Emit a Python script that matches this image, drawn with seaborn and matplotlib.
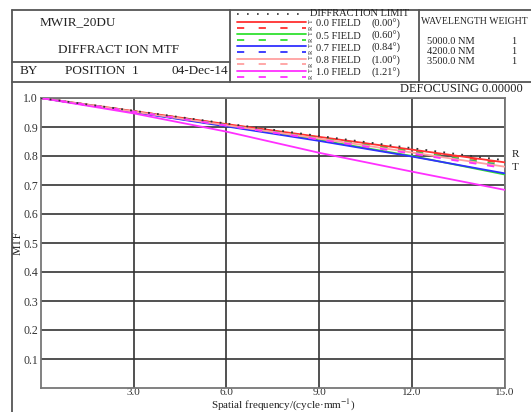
import matplotlib
matplotlib.use("Agg")
import matplotlib.pyplot as plt
from matplotlib.lines import Line2D
import seaborn as sns

# spatial frequency samples (cycles/mm)
freq = [0, 3, 6, 9, 12, 15]

# MTF values
diff_limit = [1.0, 0.956, 0.912, 0.869, 0.827, 0.785]
f00_t = [1.0, 0.955, 0.910, 0.866, 0.822, 0.778]
f00_r = [1.0, 0.955, 0.909, 0.864, 0.819, 0.775]
f05_t = [1.0, 0.952, 0.904, 0.855, 0.800, 0.736]
f05_r = [1.0, 0.954, 0.907, 0.861, 0.815, 0.768]
f07_t = [1.0, 0.951, 0.902, 0.852, 0.798, 0.740]
f07_r = [1.0, 0.953, 0.906, 0.859, 0.812, 0.764]
f08_t = [1.0, 0.953, 0.906, 0.860, 0.812, 0.763]
f08_r = [1.0, 0.953, 0.905, 0.858, 0.810, 0.760]
f10_t = [1.0, 0.947, 0.884, 0.811, 0.746, 0.683]
f10_r = [1.0, 0.953, 0.905, 0.857, 0.808, 0.758]

field_names = ["0.0 FIELD", "0.5 FIELD", "0.7 FIELD", "0.8 FIELD", "1.0 FIELD"]
field_angles = ["(0.00\u00b0)", "(0.60\u00b0)", "(0.84\u00b0)", "(1.00\u00b0)", "(1.21\u00b0)"]
field_colors = ["#ff3030", "#30e030", "#3030ff", "#ffa0a0", "#ff30ff"]
tangential = [f00_t, f05_t, f07_t, f08_t, f10_t]
radial = [f00_r, f05_r, f07_r, f08_r, f10_r]

wavelengths = ["5000.0 NM", "4200.0 NM", "3500.0 NM"]
weights = ["1", "1", "1"]

xticks = [3.0, 6.0, 9.0, 12.0, 15.0]
yticks = [0.1, 0.2, 0.3, 0.4, 0.5, 0.6, 0.7, 0.8, 0.9, 1.0]

sns.set_style("white")
plt.rcParams['font.family'] = ['Liberation Serif', 'DejaVu Serif']
plt.rcParams['mathtext.fontset'] = 'stix'

W, H = 531, 412
fig = plt.figure(figsize=(W / 100, H / 100), dpi=100)


def fx(px):
    return px / W


def fy(py):
    return 1 - py / H


def hline(x0, x1, y, **kw):
    fig.add_artist(Line2D([fx(x0), fx(x1)], [fy(y), fy(y)], **kw))


def vline(x, y0, y1, **kw):
    fig.add_artist(Line2D([fx(x), fx(x)], [fy(y0), fy(y1)], **kw))


frame = dict(color="#555555", lw=1.3)
# outer frame and header boxes
hline(12, 531, 10, **frame)
vline(12, 10, 412, **frame)
hline(12, 230, 62, **frame)
hline(12, 531, 82, **frame)
vline(230, 10, 82, **frame)
vline(419, 10, 82, **frame)

txt = dict(color="#222222")
fig.text(fx(78), fy(22), "MWIR_20DU", ha="center", va="center", fontsize=9.5, **txt)
fig.text(fx(119), fy(50), "DIFFRACT ION MTF", ha="center", va="center", fontsize=9.5, **txt)
fig.text(fx(20), fy(71), "BY", ha="left", va="center", fontsize=9.5, **txt)
fig.text(fx(65), fy(71), "POSITION  1", ha="left", va="center", fontsize=9.5, **txt)
fig.text(fx(228), fy(71), "04-Dec-14", ha="right", va="center", fontsize=9.5, **txt)

# legend samples in header
fig.add_artist(Line2D([fx(237), fx(306)], [fy(14), fy(14)], color="#333333",
                      lw=1.2, linestyle=(0, (1, 5))))
fig.text(fx(310), fy(14), "DIFFRACTION LIMIT", ha="left", va="center", fontsize=7.5, **txt)
for i, (name, ang, col) in enumerate(zip(field_names, field_angles, field_colors)):
    yt = 22 + i * 12.2
    yr = yt + 5.8
    fig.add_artist(Line2D([fx(237), fx(306)], [fy(yt), fy(yt)], color=col, lw=1.3))
    fig.add_artist(Line2D([fx(237), fx(306)], [fy(yr), fy(yr)], color=col, lw=1.3,
                          linestyle=(0, (4, 8))))
    fig.text(fx(311), fy(yt - 1), "T", ha="center", va="center", fontsize=4.5,
             rotation=90, **txt)
    fig.text(fx(311), fy(yr), "R", ha="center", va="center", fontsize=4.5,
             rotation=90, **txt)
    fig.text(fx(316), fy(yt + 2), name, ha="left", va="center", fontsize=7.5, **txt)
    fig.text(fx(372), fy(yt + 2), ang, ha="left", va="center", fontsize=7.5, **txt)

fig.text(fx(421), fy(22), "WAVELENGTH WEIGHT", ha="left", va="center", fontsize=7, **txt)
for i, (wl, wt) in enumerate(zip(wavelengths, weights)):
    fig.text(fx(427), fy(42 + i * 10), wl, ha="left", va="center", fontsize=7.5, **txt)
    fig.text(fx(514), fy(42 + i * 10), wt, ha="center", va="center", fontsize=7.5, **txt)

fig.text(fx(523), fy(89), "DEFOCUSING 0.00000", ha="right", va="center", fontsize=9, **txt)

# main axes
ax = fig.add_axes([fx(40.7), fy(388), fx(505) - fx(40.7), fy(98) - fy(388)])

sns.lineplot(x=freq, y=diff_limit, ax=ax, color="#333333", lw=1.3,
             linestyle=(0, (1, 4)), zorder=5)
for col, t, r in zip(field_colors, tangential, radial):
    sns.lineplot(x=freq, y=t, ax=ax, color=col, lw=1.3, zorder=4)
    sns.lineplot(x=freq, y=r, ax=ax, color=col, lw=1.3, linestyle=(0, (4, 6)), zorder=4)

ax.set_xlim(0, 15)
ax.set_ylim(0, 1.0)
ax.set_xticks(xticks)
ax.set_xticklabels([f"{v:.1f}" for v in xticks])
ax.set_yticks(yticks)
ax.set_yticklabels([f"{v:.1f}" for v in yticks])
ax.grid(True, color="#333333", lw=1.2)
ax.set_axisbelow(True)
for s in ax.spines.values():
    s.set_color("#777777")
    s.set_linewidth(1.3)
ax.tick_params(axis="both", length=0, labelsize=8.5, colors="#333333", pad=2)
ax.tick_params(axis="x", pad=0, labelsize=8)
ax.set_xlabel("")
fig.text(fx(283), fy(405.5), "Spatial frequency/(cycle\u00b7mm$^{-1}$)", ha="center",
         va="center", fontsize=8, **txt)
ax.set_ylabel("MTF", fontsize=8.5, labelpad=0, color="#222222")
ax.yaxis.set_label_coords(-0.037, 0.5)

ax.text(1.015, 0.805, "R", transform=ax.transAxes, ha="left", va="center", fontsize=8, **txt)
ax.text(1.015, 0.76, "T", transform=ax.transAxes, ha="left", va="center", fontsize=8, **txt)

fig.savefig("out.png", dpi=100)
